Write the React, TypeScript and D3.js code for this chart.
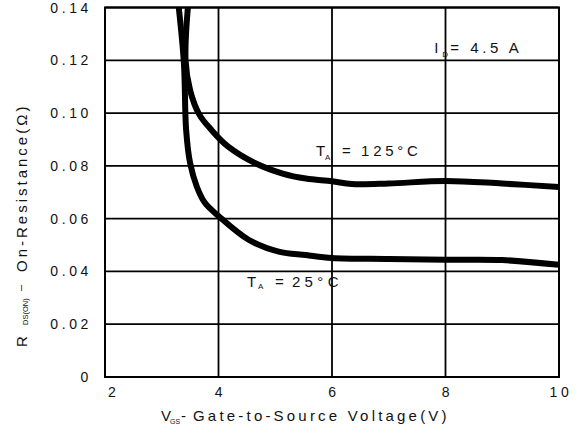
import React from "react";
import * as d3 from "d3";

// ---- data ----
const xTicks = [2, 4, 6, 8, 10];
const xTickLabels = ["2", "4", "6", "8", "10"];
const yTicks = [0, 0.02, 0.04, 0.06, 0.08, 0.1, 0.12, 0.14];
const yTickLabels = ["0", "0.02", "0.04", "0.06", "0.08", "0.10", "0.12", "0.14"];

// T_A = 25°C
const vgs25 = [3.3, 3.39, 3.43, 3.5, 3.62, 3.76, 4.0, 4.53, 5.06, 5.54, 6.0, 7.0, 8.0, 9.0, 10.0];
const r25 = [0.14, 0.119, 0.0935, 0.081, 0.072, 0.066, 0.061, 0.052, 0.0475, 0.0462, 0.0451, 0.0447, 0.0444, 0.0443, 0.0425];

// T_A = 125°C
const vgs125 = [3.46, 3.42, 3.5, 3.66, 3.88, 4.16, 4.66, 5.13, 5.54, 6.0, 6.35, 7.0, 8.0, 9.0, 10.0];
const r125 = [0.14, 0.12, 0.1086, 0.0995, 0.0935, 0.0875, 0.0809, 0.0771, 0.0752, 0.0742, 0.0731, 0.0733, 0.0743, 0.0733, 0.072];

const FONT = "'Liberation Sans', Arial, Helvetica, sans-serif";

export default function App() {
  const W = 578;
  const H = 433;
  const x = d3.scaleLinear().domain([2, 10]).range([105, 559]);
  const y = d3.scaleLinear().domain([0, 0.14]).range([377, 7.5]);

  const line = d3
    .line<[number, number]>()
    .x((d) => x(d[0]))
    .y((d) => y(d[1]))
    .curve(d3.curveCatmullRom.alpha(0.5));

  const s25 = vgs25.map((v, i) => [v, r25[i]] as [number, number]);
  const s125 = vgs125.map((v, i) => [v, r125[i]] as [number, number]);

  const x0 = x(2), x1 = x(10), y0 = y(0), y1 = y(0.14);

  // annotation anchors (data coords)
  const idPos = { v: 7.8, r: 0.1227 };
  const t125Pos = { v: 5.72, r: 0.0837 };
  const t25Pos = { v: 4.5, r: 0.0342 };

  const txt = { fontFamily: FONT, fill: "#111" } as React.CSSProperties;

  return (
    <svg
      width={W}
      height={H}
      style={{ position: "absolute", left: 0, top: 0, background: "#fff" }}
    >
      <defs>
        <clipPath id="plotclip">
          <rect x={x0} y={y1} width={x1 - x0} height={y0 - y1} />
        </clipPath>
      </defs>
      <rect x={0} y={0} width={W} height={H} fill="#fff" />

      {/* grid */}
      {xTicks.map((t) => (
        <line key={"gx" + t} x1={x(t)} x2={x(t)} y1={y1} y2={y0} stroke="#000" strokeWidth={1.8} />
      ))}
      {yTicks.map((t) => (
        <line key={"gy" + t} x1={x0} x2={x1} y1={y(t)} y2={y(t)} stroke="#000" strokeWidth={1.8} />
      ))}
      <rect x={x0} y={y1} width={x1 - x0} height={y0 - y1} fill="none" stroke="#000" strokeWidth={2} />

      {/* curves */}
      <g clipPath="url(#plotclip)">
        <path d={line(s125) || ""} fill="none" stroke="#000" strokeWidth={6} strokeLinejoin="round" />
        <path d={line(s25) || ""} fill="none" stroke="#000" strokeWidth={6} strokeLinejoin="round" />
      </g>

      {/* y tick labels */}
      {yTicks.map((t, i) => (
        <text
          key={"yl" + t}
          x={92}
          y={y(t) + 5}
          textAnchor="end"
          style={{ ...txt, fontSize: 14, letterSpacing: 3.6 }}
        >
          {yTickLabels[i]}
        </text>
      ))}

      {/* x tick labels */}
      {xTicks.map((t, i) => (
        <text
          key={"xl" + t}
          x={i === 0 ? x(t) + 3 : x(t) + 2}
          y={y0 + 20}
          textAnchor={i === 0 ? "start" : "middle"}
          style={{ ...txt, fontSize: 14, letterSpacing: 3.6 }}
        >
          {xTickLabels[i]}
        </text>
      ))}

      {/* x title */}
      <text x={161} y={421} style={{ ...txt, fontSize: 15 }}>V</text>
      <text x={170} y={424} style={{ ...txt, fontSize: 7 }}>GS</text>
      <text x={181} y={421} style={{ ...txt, fontSize: 15 }}>-</text>
      <text x={193} y={421} style={{ ...txt, fontSize: 15, letterSpacing: 3.2 }}>
        Gate-to-Source Voltage(V)
      </text>

      {/* y title */}
      <g transform="translate(27,347) rotate(-90)">
        <text x={0} y={0} style={{ ...txt, fontSize: 15 }}>R</text>
        <text x={22} y={1} style={{ ...txt, fontSize: 7.5 }}>DS(ON)</text>
        <text x={56} y={-3} style={{ ...txt, fontSize: 11 }}>–</text>
        <text x={75} y={0} style={{ ...txt, fontSize: 15, letterSpacing: 3 }}>
          On-Resistance(Ω)
        </text>
      </g>

      {/* annotations */}
      <g transform={`translate(${x(idPos.v)},${y(idPos.r)})`}>
        <text x={0} y={0} style={{ ...txt, fontSize: 15 }}>I</text>
        <text x={8} y={3.5} style={{ ...txt, fontSize: 8 }}>D</text>
        <text x={16} y={0} style={{ ...txt, fontSize: 15, letterSpacing: 3.6 }}>= 4.5 A</text>
      </g>
      <g transform={`translate(${x(t125Pos.v)},${y(t125Pos.r)})`}>
        <text x={0} y={0} style={{ ...txt, fontSize: 15 }}>T</text>
        <text x={9} y={4} style={{ ...txt, fontSize: 8 }}>A</text>
        <text x={26} y={0} style={{ ...txt, fontSize: 15 }}>=</text>
        <text x={45} y={0} style={{ ...txt, fontSize: 15, letterSpacing: 3.7 }}>125°C</text>
      </g>
      <g transform={`translate(${x(t25Pos.v)},${y(t25Pos.r)})`}>
        <text x={0} y={0} style={{ ...txt, fontSize: 15 }}>T</text>
        <text x={11} y={2} style={{ ...txt, fontSize: 8 }}>A</text>
        <text x={28} y={0} style={{ ...txt, fontSize: 15 }}>=</text>
        <text x={45} y={0} style={{ ...txt, fontSize: 15, letterSpacing: 4.4 }}>25°C</text>
      </g>
    </svg>
  );
}
